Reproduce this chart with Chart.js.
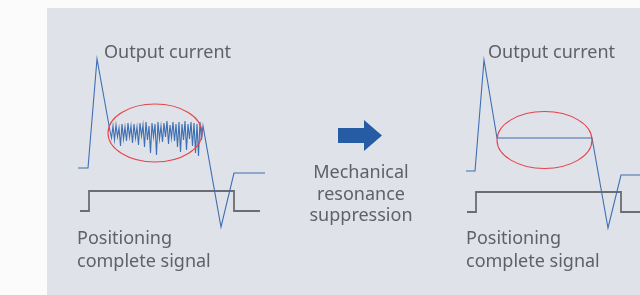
<!DOCTYPE html>
<html>
<head>
<meta charset="utf-8">
<script src="https://cdn.jsdelivr.net/npm/chart.js@4.4.1/dist/chart.umd.min.js"></script>
<style>
  html, body { margin: 0; padding: 0; background: #fbfbfb; }
  #wrap { width: 640px; height: 295px; }
</style>
</head>
<body>
<div id="wrap"><canvas id="myChart" width="640" height="295"></canvas></div>
<script>
// signal traces (x = time, y = level, screen units)
var leftCurrentX  = [78, 88, 97, 110];
var leftCurrentY  = [168, 168, 59, 131];
var noiseX = [111.5,113,114.5,116,117.5,119,120.5,122,123.5,125,126.5,128,129.5,131,132.5,134,135.5,137,138.5,140,
              141.5,143,144.5,146,147.5,149,150.5,152,153.5,155,156.5,158,159.5,161,162.5,164,165.5,167,168.5,170,
              171.5,173,174.5,176,177.5,179,180.5,182,183.5,185,186.5,188,189.5,191,192.5,194,195.5,197,198.5,200,201.5,203];
var noiseY = [138,126,140,125,137,128,146,124,139,127,141,123,137,126,143,124,138,127,145,123,
              136,125,147,122,140,126,153,123,137,124,155,122,139,126,142,123,137,121,144,125,
              138,122,141,124,147,122,152,124,140,121,150,124,139,122,146,123,153,124,156,122,140,126];
var leftTailX = [221, 234, 265];
var leftTailY = [227, 173, 173];

var rightCurrentX = [466, 475, 484, 497, 592, 608, 621, 640];
var rightCurrentY = [171, 171, 60, 138, 138, 228, 175, 175];

var leftPosX  = [80, 89, 89, 234, 234, 260];
var leftPosY  = [211, 211, 191, 191, 211, 211];
var rightPosX = [467, 476, 476, 621, 621, 640];
var rightPosY = [212, 212, 192, 192, 212, 212];

// ellipses: centre x, centre y, radius x, radius y
var ellipseCx = [155, 544.5];
var ellipseCy = [133, 140];
var ellipseRx = [47, 47.5];
var ellipseRy = [29, 28.5];

function pts(xs, ys) {
  var out = [];
  for (var i = 0; i < xs.length; i++) out.push({x: xs[i], y: ys[i]});
  return out;
}

var leftCurrent = pts(leftCurrentX, leftCurrentY)
  .concat(pts(noiseX, noiseY))
  .concat(pts(leftTailX, leftTailY));

var textColor = '#5e6165';
var fontFam = '"Noto Sans", "Open Sans", sans-serif';

var decoPlugin = {
  id: 'deco',
  beforeDraw: function(chart) {
    var c = chart.ctx, xs = chart.scales.x, ys = chart.scales.y;
    var px = function(v){ return xs.getPixelForValue(v); };
    var py = function(v){ return ys.getPixelForValue(v); };
    c.save();
    c.fillStyle = '#dfe3e9';
    c.fillRect(px(47), py(8), px(640) - px(47), py(295) - py(8));
    c.restore();
  },
  afterDatasetsDraw: function(chart) {
    var c = chart.ctx, xs = chart.scales.x, ys = chart.scales.y;
    var px = function(v){ return xs.getPixelForValue(v); };
    var py = function(v){ return ys.getPixelForValue(v); };
    c.save();
    // red ellipses
    c.strokeStyle = '#e5434c';
    c.lineWidth = 1.1;
    for (var i = 0; i < ellipseCx.length; i++) {
      c.beginPath();
      c.ellipse(px(ellipseCx[i]), py(ellipseCy[i]),
                Math.abs(px(ellipseCx[i] + ellipseRx[i]) - px(ellipseCx[i])),
                Math.abs(py(ellipseCy[i] + ellipseRy[i]) - py(ellipseCy[i])), 0, 0, Math.PI * 2);
      c.stroke();
    }
    // arrow
    c.fillStyle = '#255ca3';
    c.beginPath();
    c.moveTo(px(338), py(128));
    c.lineTo(px(364), py(128));
    c.lineTo(px(364), py(120));
    c.lineTo(px(382), py(135.5));
    c.lineTo(px(364), py(151));
    c.lineTo(px(364), py(143));
    c.lineTo(px(338), py(143));
    c.closePath();
    c.fill();
    // labels
    c.fillStyle = textColor;
    c.font = '18px ' + fontFam;
    c.textBaseline = 'alphabetic';
    c.textAlign = 'left';
    c.fillText('Output current', px(104), py(58));
    c.fillText('Output current', px(488), py(58));
    c.fillText('Positioning', px(77), py(244));
    c.fillText('complete signal', px(77), py(267));
    c.fillText('Positioning', px(466), py(244));
    c.fillText('complete signal', px(466), py(267));
    c.textAlign = 'center';
    c.fillText('Mechanical', px(361), py(178));
    c.fillText('resonance', px(361), py(200));
    c.fillText('suppression', px(361), py(221));
    c.restore();
  }
};

var ctx = document.getElementById('myChart').getContext('2d');
var myChart = new Chart(ctx, {
  type: 'scatter',
  data: {
    datasets: [
      { data: leftCurrent, showLine: true, borderColor: '#3f6fb2', borderWidth: 1.1, pointRadius: 0, tension: 0 },
      { data: pts(rightCurrentX, rightCurrentY), showLine: true, borderColor: '#3f6fb2', borderWidth: 1.1, pointRadius: 0, tension: 0 },
      { data: pts(leftPosX, leftPosY), showLine: true, borderColor: '#6a6d71', borderWidth: 1.8, pointRadius: 0, tension: 0 },
      { data: pts(rightPosX, rightPosY), showLine: true, borderColor: '#6a6d71', borderWidth: 1.8, pointRadius: 0, tension: 0 }
    ]
  },
  options: {
    responsive: false,
    animation: false,
    clip: false,
    layout: { padding: 0 },
    plugins: { legend: { display: false }, tooltip: { enabled: false } },
    scales: {
      x: { type: 'linear', min: 0, max: 640, display: false },
      y: { type: 'linear', min: 0, max: 295, reverse: true, display: false }
    }
  },
  plugins: [decoPlugin]
});
</script>
</body>
</html>
